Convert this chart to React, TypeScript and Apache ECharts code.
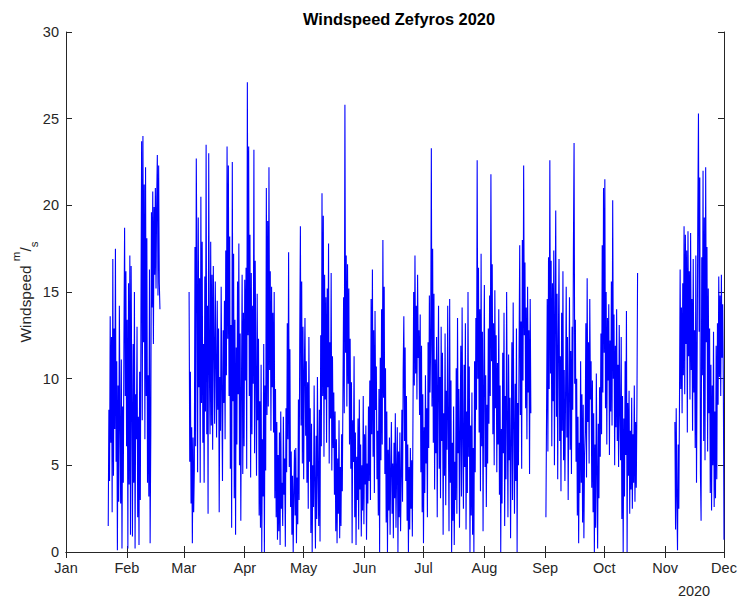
import React, { useEffect, useRef } from 'react';
import * as echarts from 'echarts';

const TITLE = 'Windspeed Zefyros 2020';
const MONTH_LABELS = ['Jan', 'Feb', 'Mar', 'Apr', 'May', 'Jun', 'Jul', 'Aug', 'Sep', 'Oct', 'Nov', 'Dec'];
const YEAR_LABEL = '2020';
const X_START = '2020-01-01T00:00';
const X_END = '2020-12-01T00:00';
const Y_MIN = 0;
const Y_MAX = 30;
const Y_STEP = 5;
const STEP_HOURS = 8;

const segmentStarts = ['2020-01-22T12:00', '2020-03-03T16:00', '2020-09-01T08:00', '2020-11-06T00:00'];

const windJanFeb = [
  1.5, 8.2, 4.1, 13.6, 6.3, 12.4,
  2.3, 16.9, 4.4, 12.9, 7.1, 17.5,
  5.2, 11.0, 0.1, 9.6, 2.9, 14.2,
  7.3, 2.8, 11.1, 0.2, 8.4, 4.0,
  12.3, 18.7, 9.0, 16.2, 6.1, 13.4,
  0.2, 15.5, 3.9, 17.1, 1.0, 16.5,
  8.5, 0.9, 12.0, 4.0, 15.0, 0.2,
  9.1, 6.5, 13.0, 2.0, 7.8, 0.4,
  10.4, 3.0, 14.0, 23.7, 7.6, 24.0,
  12.1, 21.2, 6.5, 22.2, 9.0, 18.1,
  4.0, 10.2, 3.2, 16.3, 0.5, 6.8,
  19.6, 14.1, 20.8, 12.0, 19.9, 16.0,
  21.0, 15.2, 20.3, 22.9, 14.8, 22.3,
  15.5, 14.0,
];

const windMarAug = [
  15.0, 5.2, 10.4, 2.8, 7.2, 0.5,
  6.6, 2.3, 4.8, 17.6, 6.1, 22.7,
  15.9, 4.6, 19.3, 9.5, 15.8, 4.0,
  20.5, 8.6, 17.9, 6.3, 12.0, 4.0,
  15.9, 8.1, 23.5, 6.8, 14.2, 2.2,
  23.0, 10.6, 6.8, 17.9, 7.3, 16.0,
  5.9, 16.5, 12.0, 7.4, 15.6, 11.0,
  6.6, 14.5, 8.2, 12.9, 2.3, 10.1,
  7.0, 15.3, 9.3, 4.1, 12.8, 8.6,
  14.5, 6.5, 17.4, 10.2, 23.4, 12.3,
  22.3, 9.0, 18.2, 4.8, 13.1, 1.4,
  22.5, 8.7, 17.2, 3.1, 13.4, 1.0,
  11.8, 6.2, 15.6, 9.1, 17.8, 5.0,
  12.6, 1.8, 9.5, 16.0, 4.5, 13.8,
  6.1, 15.7, 9.9, 16.4, 4.8, 27.1,
  12.5, 23.4, 9.0, 18.3, 4.3, 16.1,
  6.8, 14.2, 9.7, 23.2, 5.7, 16.8,
  10.1, 4.4, 14.9, 7.6, 12.3, 2.1,
  8.7, 1.4, 10.8, 0.0, 6.5, 3.2,
  12.0, 0.0, 9.6, 4.7, 21.0, 7.9,
  19.1, 8.4, 22.2, 10.5, 16.2, 7.0,
  15.3, 9.5, 13.8, 6.9, 15.0, 3.1,
  9.4, 2.0, 7.5, 0.7, 5.6, 1.2,
  6.9, 0.4, 8.1, 2.5, 4.0, 1.5,
  7.8, 3.3, 5.4, 0.3, 8.3, 4.6,
  13.2, 6.5, 17.3, 4.9, 11.7, 2.6,
  5.8, 1.0, 4.4, 0.0, 3.5, 5.9,
  2.1, 6.0, 0.5, 4.3, 1.6, 8.8,
  3.0, 12.2, 18.8, 7.3, 15.6, 5.1,
  13.0, 4.2, 10.5, 13.5, 6.7, 11.0,
  4.0, 9.8, 2.5, 12.4, 5.2, 8.3,
  1.1, 7.4, 0.0, 5.0, 2.6, 9.6,
  3.8, 0.2, 6.7, 1.9, 10.1, 4.4,
  1.5, 8.2, 0.6, 12.5, 6.1, 20.7,
  9.0, 19.4, 5.5, 16.0, 8.8, 14.7,
  6.3, 15.2, 9.5, 17.8, 5.1, 12.1,
  7.7, 16.1, 4.7, 11.3, 6.0, 9.2,
  3.3, 8.1, 1.2, 6.5, 0.5, 5.4,
  2.2, 7.6, 0.8, 4.9, 1.5, 6.8,
  3.5, 9.3, 14.7, 8.0, 25.8, 11.5,
  17.1, 8.4, 16.6, 9.7, 15.2, 6.2,
  12.3, 4.8, 9.8, 0.5, 7.6, 5.2,
  11.3, 2.0, 6.9, 0.4, 5.5, 3.0,
  7.7, 1.3, 8.8, 3.6, 6.2, 0.9,
  5.0, 2.4, 9.0, 1.6, 6.8, 3.9,
  7.3, 0.7, 5.1, 2.8, 8.4, 4.1,
  9.9, 3.0, 14.6, 6.8, 16.3, 5.5,
  12.8, 3.4, 13.9, 8.2, 10.7, 4.2,
  7.0, 2.1, 9.4, 0.0, 11.2, 5.3,
  14.0, 6.2, 18.0, 8.9, 15.3, 4.5,
  10.6, 1.7, 8.1, 0.0, 5.9, 2.4,
  6.6, 1.0, 4.8, 7.5, 2.2, 5.1,
  0.8, 6.3, 3.1, 8.0, 1.4, 4.7,
  7.2, 0.0, 5.8, 2.0, 6.9, 1.2,
  4.3, 8.2, 2.9, 10.5, 13.6, 6.4,
  11.8, 4.1, 9.0, 1.8, 6.2, 0.0,
  4.9, 1.3, 6.0, 2.5, 5.3, 0.9,
  8.2, 15.0, 9.6, 17.1, 10.3, 14.2,
  8.8, 16.0, 11.2, 12.8, 7.9, 13.7,
  4.6, 11.9, 2.3, 9.1, 0.5, 7.2,
  3.4, 10.2, 5.1, 8.3, 2.0, 12.1,
  6.0, 14.8, 9.2, 12.0, 23.3, 8.4,
  17.5, 6.3, 14.9, 3.6, 11.1, 5.7,
  12.4, 2.0, 9.7, 14.2, 4.8, 10.1,
  3.1, 13.0, 6.4, 11.5, 1.0, 8.0,
  4.4, 12.6, 2.7, 9.3, 5.9, 14.2,
  7.1, 1.2, 14.6, 4.0, 9.9, 0.0,
  6.3, 1.8, 8.4, 0.4, 5.2, 3.0,
  10.6, 2.2, 13.5, 5.7, 9.4, 1.4,
  7.0, 11.9, 3.2, 14.1, 6.6, 2.5,
  10.8, 4.9, 13.2, 1.3, 8.1, 3.4,
  15.0, 5.5, 10.7, 0.0, 7.3, 2.1,
  9.2, 1.0, 6.0, 0.0, 11.0, 4.6,
  13.5, 8.2, 22.6, 10.0, 16.4, 6.9,
  14.0, 3.5, 17.2, 6.1, 12.7, 1.2,
  9.8, 15.4, 4.9, 10.2, 2.6, 8.5,
  5.1, 12.9, 7.4, 14.8, 9.0, 21.8,
  11.0, 16.6, 6.8, 13.2, 5.0, 15.1,
  8.3, 12.5, 4.6, 10.9, 6.2, 14.0,
  3.3, 9.6, 0.0, 7.1, 2.8, 11.5,
  5.7, 13.8, 1.5, 9.0, 4.2, 15.0,
  7.8, 2.0, 11.4, 5.3, 8.9, 0.8,
  6.4, 12.1, 3.0, 14.4, 7.5, 2.2,
  9.7, 4.1, 12.9, 0.0, 8.6, 5.0,
  11.6, 17.7, 7.9, 13.3, 4.8, 18.0,
  9.9, 22.3, 12.5, 16.7, 8.3, 14.1,
  6.5, 15.3, 9.2, 12.8, 4.5, 14.6,
  8.0,
];

const windSepOct = [
  2.0, 8.1, 14.6, 5.8, 17.0, 9.4,
  22.6, 10.3, 16.8, 6.1, 15.5, 8.7,
  17.4, 5.0, 13.6, 19.7, 7.8, 14.9,
  4.2, 12.0, 16.9, 6.4, 11.3, 3.5,
  13.8, 7.0, 16.2, 5.3, 10.5, 4.1,
  9.0, 15.3, 6.6, 12.4, 3.0, 8.9,
  14.7, 5.9, 11.6, 4.5, 13.0, 8.2,
  17.5, 23.6, 9.7, 13.4, 5.2, 10.0,
  2.1, 7.8, 0.5, 6.3, 3.4, 11.0,
  4.0, 9.1, 1.7, 8.5, 0.8, 5.6,
  6.9, 13.2, 4.3, 15.8, 7.5, 12.1,
  5.1, 14.6, 8.8, 11.0, 3.7, 9.9,
  2.3, 8.0, 0.0, 6.2, 1.4, 10.3,
  4.7, 0.2, 7.4, 3.1, 9.5, 5.5,
  12.6, 6.8, 17.7, 9.2, 21.0, 11.5,
  21.5, 8.3, 15.0, 6.2, 13.5, 9.9,
  14.3, 5.6, 12.2, 8.1, 15.6, 7.3,
  20.3, 10.0, 13.7, 5.0, 11.9, 7.2,
  14.0, 6.4, 10.8, 4.9, 13.1, 8.0,
  5.3, 12.4, 1.9, 9.0, 0.0, 7.7,
  3.2, 11.0, 5.6, 13.9, 0.0, 8.6,
  4.4, 9.3, 2.2, 7.0, 3.6, 8.9,
  2.5, 6.8, 4.0, 9.6, 2.9, 7.5,
  3.7, 8.4, 16.1,
];

const windNovDec = [
  7.5, 1.3, 8.3, 3.0, 0.1, 6.2,
  2.5, 8.6, 16.3, 9.4, 14.1, 8.0,
  15.5, 10.2, 18.8, 9.1, 18.3, 12.0,
  17.4, 6.9, 18.5, 11.3, 16.2, 8.8,
  18.4, 10.5, 14.6, 7.0, 16.9, 9.2,
  12.8, 6.0, 17.1, 4.0, 11.4, 19.5,
  25.3, 12.7, 21.6, 4.6, 1.8, 17.0,
  10.2, 22.0, 6.4, 19.3, 5.3, 22.2,
  12.1, 17.6, 5.8, 15.2, 8.0, 12.9,
  3.4, 10.8, 2.4, 9.6, 5.0, 12.7,
  2.6, 8.1, 3.1, 11.9, 4.2, 13.2,
  8.5, 15.9, 10.1, 14.8, 9.0, 16.0,
  11.2, 14.3, 9.7, 0.7,
];

const segments = [windJanFeb, windMarAug, windSepOct, windNovDec];

function buildData() {
  const out: any[] = [];
  const stepMs = STEP_HOURS * 3600 * 1000;
  segments.forEach((vals, s) => {
    const t0 = new Date(segmentStarts[s]).getTime();
    vals.forEach((v, i) => out.push([t0 + i * stepMs, v]));
    out.push([t0 + vals.length * stepMs, null]);
  });
  return out;
}

const FONT = '"Liberation Sans", Arial, Helvetica, sans-serif';
const AXIS_COLOR = '#262626';
const DAY = 24 * 3600 * 1000;

export default function App() {
  const ref = useRef<HTMLDivElement>(null);
  useEffect(() => {
    if (!ref.current) return;
    const chart = echarts.init(ref.current, undefined, { renderer: 'svg' });
    const xMin = new Date(X_START).getTime();
    const xMax = new Date(X_END).getTime();
    const axisLine = { show: true, lineStyle: { color: AXIS_COLOR, width: 1 } };
    const axisTick = { show: true, inside: true, length: 6, lineStyle: { color: AXIS_COLOR, width: 1 } };
    const monthFmt = (val: number) => MONTH_LABELS[new Date(val).getMonth()];
    const xBase = {
      type: 'time',
      min: xMin,
      max: xMax,
      splitNumber: 11,
      minInterval: 28 * DAY,
      maxInterval: 31 * DAY,
      splitLine: { show: false },
      axisLine,
      axisTick,
    };
    const option: any = {
      animation: false,
      backgroundColor: '#ffffff',
      title: {
        text: TITLE,
        left: 298,
        top: 6,
        textStyle: { fontFamily: FONT, fontSize: 16.4, fontWeight: 'bold', color: '#000000' },
      },
      grid: { left: 66, right: 17, top: 32, bottom: 45, containLabel: false, outerBoundsMode: 'none' },
      xAxis: [
        {
          ...xBase,
          position: 'bottom',
          axisLabel: {
            formatter: monthFmt, fontFamily: FONT, fontSize: 14.5, color: AXIS_COLOR, margin: 8,
            showMinLabel: true, showMaxLabel: true,
          },
          name: YEAR_LABEL,
          nameLocation: 'end',
          nameGap: -30,
          nameMoveOverlap: false,
          nameTextStyle: {
            fontFamily: FONT, fontSize: 14.5, color: AXIS_COLOR,
            align: 'center', verticalAlign: 'top', padding: [31, 0, 0, 0],
          },
        },
        {
          ...xBase,
          position: 'top',
          axisLabel: { show: false },
        },
      ],
      yAxis: [
        {
          type: 'value',
          min: Y_MIN,
          max: Y_MAX,
          interval: Y_STEP,
          position: 'left',
          splitLine: { show: false },
          axisLine,
          axisTick,
          axisLabel: { fontFamily: FONT, fontSize: 14.5, color: AXIS_COLOR, margin: 7 },
          name: '{a|Windspeed }{sup|m}{a|/}{sub|s}',
          nameLocation: 'middle',
          nameRotate: 90,
          nameGap: 26,
          nameMoveOverlap: false,
          nameTextStyle: {
            fontFamily: FONT,
            color: AXIS_COLOR,
            rich: {
              a: { fontFamily: FONT, fontSize: 15.4, lineHeight: 30, color: AXIS_COLOR },
              sup: { fontFamily: FONT, fontSize: 11.5, lineHeight: 12, verticalAlign: 'top', color: AXIS_COLOR },
              sub: { fontFamily: FONT, fontSize: 11.5, lineHeight: 24, verticalAlign: 'bottom', color: AXIS_COLOR },
            },
          },
        },
        {
          type: 'value',
          min: Y_MIN,
          max: Y_MAX,
          interval: Y_STEP,
          position: 'right',
          splitLine: { show: false },
          axisLine,
          axisTick,
          axisLabel: { show: false },
        },
      ],
      series: [
        {
          type: 'line',
          xAxisIndex: 0,
          yAxisIndex: 0,
          data: buildData(),
          showSymbol: false,
          symbol: 'none',
          connectNulls: false,
          lineStyle: { color: '#0000ff', width: 1.1 },
          emphasis: { disabled: true },
        },
      ],
    };
    chart.setOption(option);
    return () => chart.dispose();
  }, []);
  return (
    <div
      ref={ref}
      style={{ position: 'absolute', left: 0, top: 0, width: 741, height: 597, background: '#ffffff' }}
    />
  );
}
